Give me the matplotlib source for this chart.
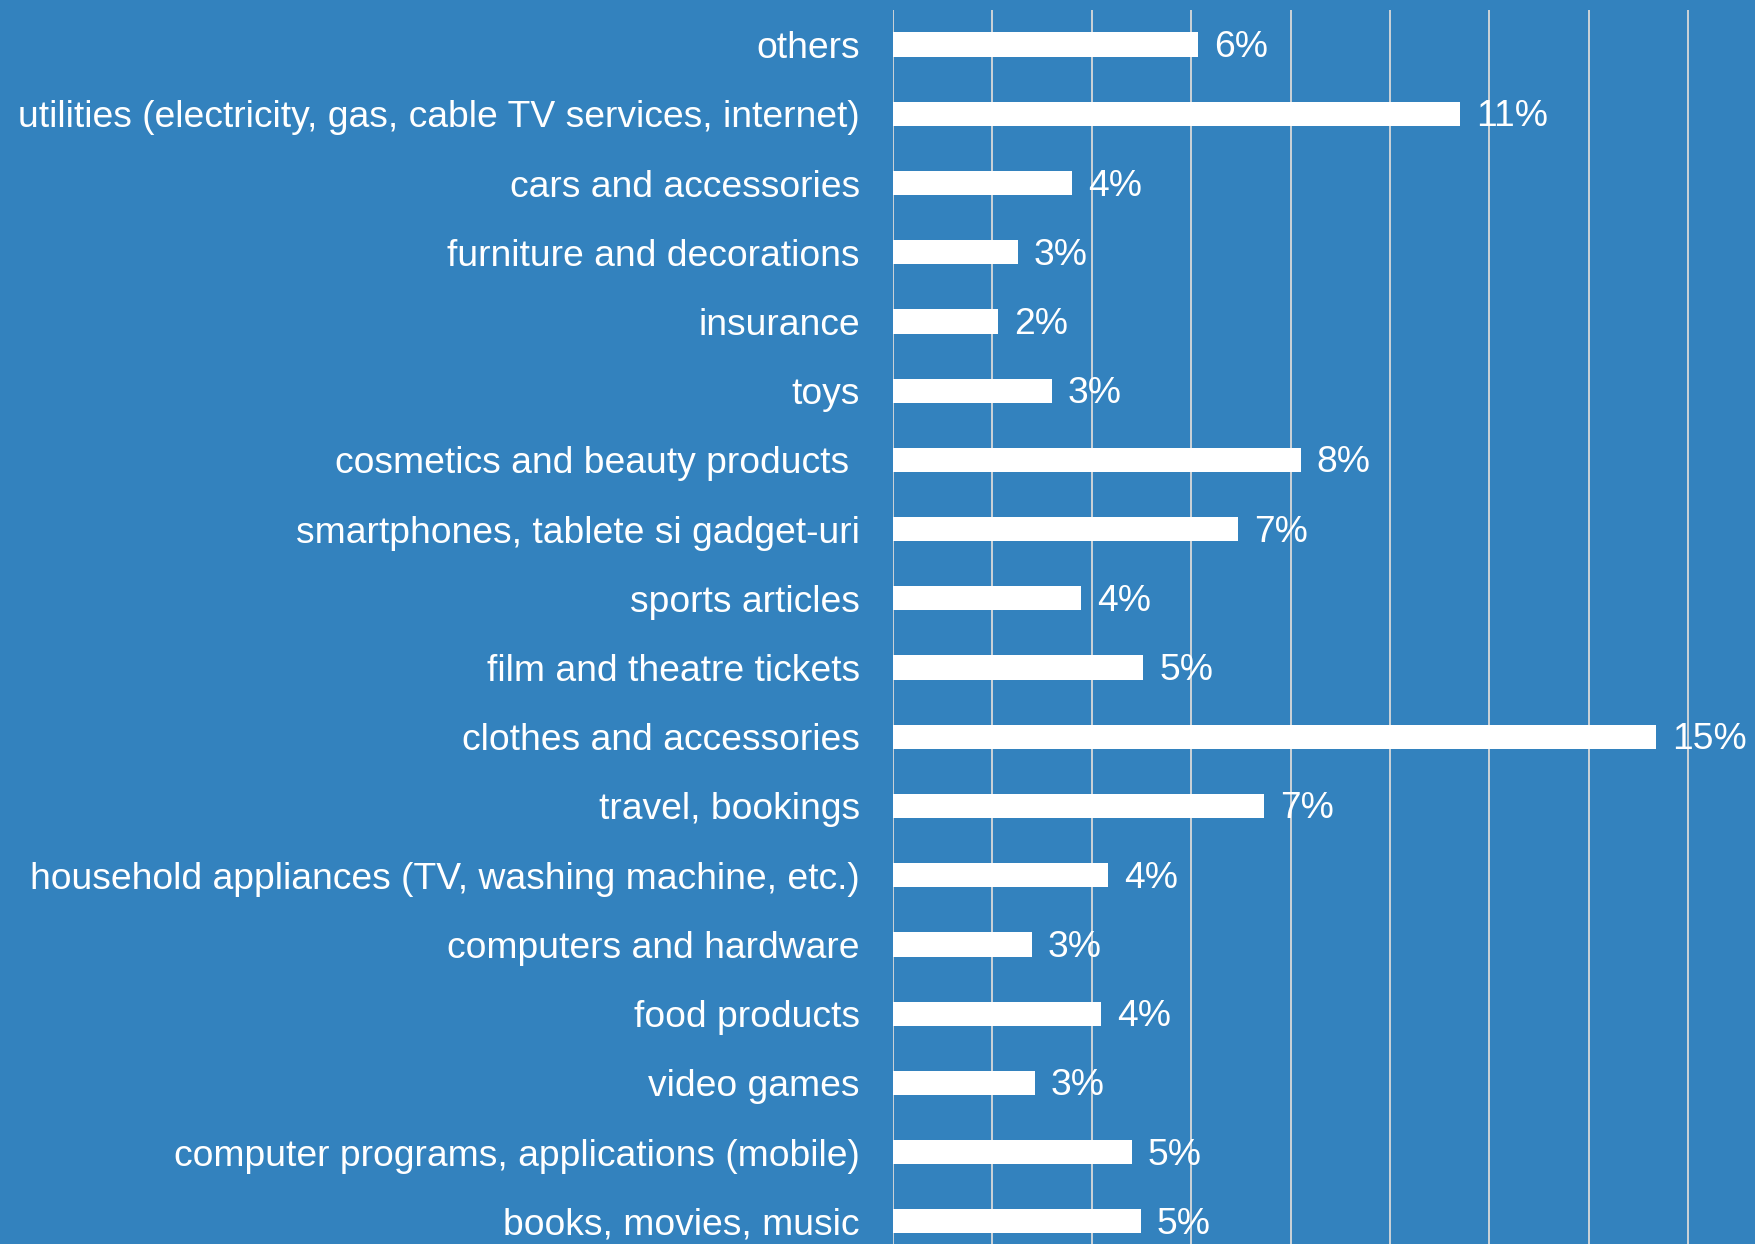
import matplotlib
matplotlib.use("Agg")
import matplotlib.pyplot as plt
import numpy as np

categories = [
    "others",
    "utilities (electricity, gas, cable TV services, internet)",
    "cars and accessories",
    "furniture and decorations",
    "insurance",
    "toys",
    "cosmetics and beauty products ",
    "smartphones, tablete si gadget-uri",
    "sports articles",
    "film and theatre tickets",
    "clothes and accessories",
    "travel, bookings",
    "household appliances (TV, washing machine, etc.)",
    "computers and hardware",
    "food products",
    "video games",
    "computer programs, applications (mobile)",
    "books, movies, music",
]
values = [6.13, 11.41, 3.61, 2.51, 2.11, 3.19, 8.20, 6.95, 3.78, 5.04,
          15.36, 7.47, 4.32, 2.79, 4.19, 2.85, 4.80, 4.98]
value_labels = ["6%", "11%", "4%", "3%", "2%", "3%", "8%", "7%", "4%", "5%",
                "15%", "7%", "4%", "3%", "4%", "3%", "5%", "5%"]
xticks = [0, 2, 4, 6, 8, 10, 12, 14, 16]

BG = "#3382BE"
W, H = 1756, 1244
plt.rcParams["font.family"] = ["Liberation Sans", "DejaVu Sans"]

fig = plt.figure(figsize=(W / 100, H / 100), dpi=100, facecolor=BG)
ax_left = 893 / W
ax_top = 1 - 10 / H
ax = fig.add_axes([ax_left, 0, 1 - ax_left, ax_top])
ax.set_facecolor(BG)

n = len(categories)
ypos = np.arange(n)[::-1]
ax.barh(ypos, values, height=0.35, color="white", zorder=3)

px_per_unit = 49.7
ax.set_xlim(0, (W - 893) / px_per_unit)
ax.set_ylim(-0.328, n - 1 + 0.5)

ax.set_xticks(xticks)
ax.xaxis.grid(True, color="#D9D9D9", linewidth=1.3, zorder=1)
ax.tick_params(axis="x", length=0, labelbottom=False)
ax.set_yticks(ypos)
ax.set_yticklabels(categories, fontsize=26.8, color="white")
ax.tick_params(axis="y", length=0, pad=24)
for s in ax.spines.values():
    s.set_visible(False)

for y, v, lab in zip(ypos, values, value_labels):
    ax.annotate(lab, xy=(v, y), xytext=(16, -3), textcoords="offset pixels",
                ha="left", va="center", fontsize=26.8, color="white", zorder=4)

fig.savefig("out.png", dpi=100, facecolor=BG)
